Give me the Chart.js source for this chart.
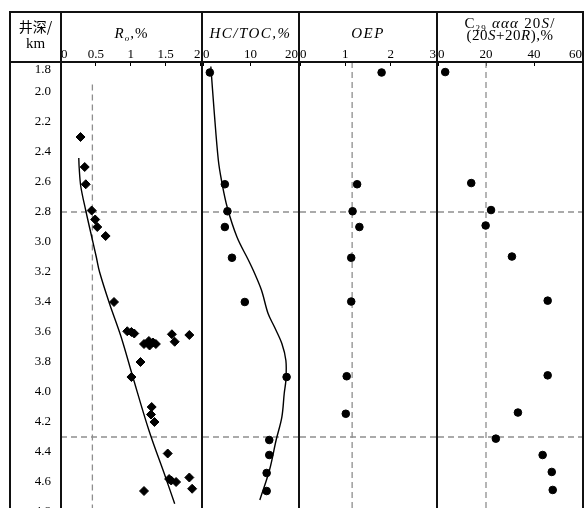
<!DOCTYPE html>
<html>
<head>
<meta charset="utf-8">
<script src="https://cdn.jsdelivr.net/npm/chart.js@4/dist/chart.umd.min.js"></script>
<style>
html, body { margin: 0; padding: 0; background: #fff; overflow: hidden; }
#wrap { position: relative; width: 585px; height: 508px; overflow: hidden; font-family: "Liberation Serif", "Times New Roman", serif; color: #000; }
#wrap canvas { position: absolute; top: 0; }
.ln { position: absolute; background: #111; z-index: 5; }
.hd { position: absolute; text-align: center; font-size: 15px; line-height: 14px; white-space: nowrap; z-index: 6; }
.hd i { font-style: italic; }
.cjk { font-family: "Noto Sans CJK SC", sans-serif; font-size: 14px; }
sub { font-size: 9px; vertical-align: -3px; line-height: 0; }
</style>
</head>
<body>
<div id="wrap">
  <!-- each canvas is 4px wider on both sides than its column, and runs past the bottom of the page -->
  <canvas id="cRo" width="200" height="540" style="left:6px"></canvas>
  <canvas id="cHc" width="105" height="540" style="left:198px"></canvas>
  <canvas id="cOep" width="146" height="540" style="left:295px"></canvas>
  <canvas id="cC29" width="154" height="540" style="left:433px"></canvas>

  <!-- frame -->
  <div class="ln" style="left:9px;top:11px;width:575px;height:2px"></div>
  <div class="ln" style="left:9px;top:61px;width:575px;height:2px"></div>
  <div class="ln" style="left:9px;top:11px;width:2px;height:500px"></div>
  <div class="ln" style="left:60px;top:11px;width:2px;height:500px"></div>
  <div class="ln" style="left:201px;top:11px;width:2px;height:500px"></div>
  <div class="ln" style="left:298px;top:11px;width:2px;height:500px"></div>
  <div class="ln" style="left:436px;top:11px;width:2px;height:500px"></div>
  <div class="ln" style="left:582px;top:11px;width:2px;height:500px"></div>

  <!-- headers -->
  <div class="hd cjk" style="left:10px;width:51px;top:19px">井深/</div>
  <div class="hd" style="left:10px;width:51px;top:36px">km</div>
  <div class="hd" style="left:61px;width:141px;top:26px;letter-spacing:1px"><i>R</i><sub><i>o</i></sub>,%</div>
  <div class="hd" style="left:202px;width:97px;top:26px;letter-spacing:1.5px"><i>HC/TOC,%</i></div>
  <div class="hd" style="left:299px;width:138px;top:26px;letter-spacing:1.5px"><i>OEP</i></div>
  <div class="hd" style="left:437px;width:146px;top:16px;letter-spacing:1.2px">C<sub>29</sub> <i>ααα</i> 20<i>S</i>/</div>
  <div class="hd" style="left:437px;width:146px;top:28px;letter-spacing:0.5px">(20<i>S</i>+20<i>R</i>),%</div>
</div>

<script>
// depth range (km) and reference lines
const depthMin = 1.8;
const depthMax = 4.8;
const thresholdDepths = [2.8, 4.3];

// Ro, %
const roDepth = [2.30, 2.50, 2.615, 2.79, 2.85, 2.90, 2.96, 3.40, 3.595, 3.60, 3.61, 3.68, 3.66, 3.69, 3.67, 3.68,
                 3.615, 3.665, 3.62, 3.80, 3.90, 4.10, 4.15, 4.20, 4.41, 4.58, 4.59, 4.60, 4.57, 4.645, 4.66];
const roValue = [0.28, 0.34, 0.355, 0.44, 0.49, 0.52, 0.64, 0.76, 0.95, 1.01, 1.05, 1.19, 1.26, 1.27, 1.32, 1.36,
                 1.59, 1.63, 1.84, 1.14, 1.01, 1.30, 1.29, 1.34, 1.53, 1.55, 1.58, 1.65, 1.84, 1.88, 1.19];
const roTrendDepth = [2.44, 2.50, 2.63, 2.79, 2.955, 3.10, 3.20, 3.41, 3.63, 3.90, 4.255, 4.57, 4.745];
const roTrendValue = [0.255, 0.26, 0.284, 0.355, 0.435, 0.506, 0.553, 0.695, 0.86, 1.03, 1.26, 1.50, 1.63];
const roCutoff = 0.45;

// HC/TOC, %
const hcDepth = [1.87, 2.615, 2.795, 2.90, 3.105, 3.40, 3.90, 4.32, 4.42, 4.54, 4.66];
const hcValue = [1.44, 4.6, 5.15, 4.6, 6.1, 8.8, 17.6, 13.95, 13.95, 13.4, 13.4];
const hcTrendDepth = [1.83, 2.12, 2.455, 2.59, 2.767, 2.967, 3.12, 3.19, 3.32, 3.477, 3.567, 3.677, 3.79, 3.92, 4.01, 4.167, 4.32, 4.52, 4.72];
const hcTrendValue = [1.65, 2.33, 3.23, 3.9, 5.09, 7.15, 9.55, 10.6, 12.3, 13.7, 15.05, 16.6, 17.45, 17.45, 17.1, 16.6, 15.4, 14.0, 11.96];

// OEP
const oepDepth = [1.87, 2.615, 2.795, 2.90, 3.105, 3.397, 3.895, 4.145];
const oepValue = [1.80, 1.26, 1.16, 1.31, 1.13, 1.13, 1.03, 1.01];
const oepCutoff = 1.15;

// C29 ααα 20S/(20S+20R), %
const c29Depth = [1.867, 2.607, 2.787, 2.89, 3.097, 3.391, 3.889, 4.137, 4.311, 4.42, 4.533, 4.653];
const c29Value = [3.0, 13.85, 22.1, 19.85, 30.8, 45.7, 45.7, 33.3, 24.1, 43.6, 47.4, 47.8];
const c29Cutoff = 20;

const serif = '"Liberation Serif", "Times New Roman", serif';
const dashGrey = '#8e8e8e';

function pts(xs, ys) {
    return xs.map((v, i) => ({ x: v, y: ys[i] }));
}

function markers(xs, ys, style, r) {
    return { data: pts(xs, ys), pointStyle: style, pointRadius: r, backgroundColor: '#000', borderColor: '#000', borderWidth: 1 };
}

function trend(xs, ys) {
    return { data: pts(xs, ys), showLine: true, borderColor: '#000', borderWidth: 1.4, tension: 0.35, pointRadius: 0 };
}

function dashed(data) {
    return { data: data, showLine: true, borderColor: dashGrey, borderWidth: 1.3, borderDash: [6, 4], pointRadius: 0 };
}

function guideLines(xmin, xmax) {
    return thresholdDepths.map(d => dashed([{ x: xmin, y: d }, { x: xmax, y: d }]));
}

// moves the "1.8" label below the header line, as in the figure
const nudgeTopLabel = {
    id: 'nudgeTopLabel',
    beforeDraw(chart) {
        const s = chart.scales.y;
        s.getLabelItems(chart.chartArea).forEach(it => {
            if (it.label === '1.8') it.options.translation[1] += 8;
        });
    }
};

function makeChart(id, xmin, xmax, step, datasets, showDepth) {
    return new Chart(document.getElementById(id), {
        type: 'scatter',
        data: { datasets: datasets },
        options: {
            responsive: false,
            animation: false,
            events: [],
            devicePixelRatio: 1,
            // plot area: y 62..512 on the page
            layout: { padding: { top: 12, bottom: 28, left: 4, right: 4 } },
            plugins: { legend: { display: false }, tooltip: { enabled: false } },
            scales: {
                x: {
                    type: 'linear', position: 'top', min: xmin, max: xmax,
                    ticks: {
                        stepSize: step, align: 'inner', autoSkip: false, maxRotation: 0, padding: 4,
                        color: '#000', font: { family: serif, size: 13 }, callback: v => String(v)
                    },
                    grid: { drawOnChartArea: false, drawTicks: true, tickLength: -4, color: '#000', lineWidth: 1 },
                    border: { display: false },
                    afterFit: s => { s.height = 50; }
                },
                y: {
                    type: 'linear', reverse: true, min: depthMin, max: depthMax,
                    display: showDepth,
                    ticks: { stepSize: 0.2, padding: 10, color: '#000', font: { family: serif, size: 13 }, callback: v => v.toFixed(1) },
                    grid: { display: false, drawTicks: false },
                    border: { display: false },
                    afterFit: s => { s.width = showDepth ? 51 : 0; }
                }
            }
        },
        plugins: showDepth ? [nudgeTopLabel] : []
    });
}

makeChart('cRo', 0, 2, 0.5, [
    markers(roValue, roDepth, 'rectRot', 4.5),
    trend(roTrendValue, roTrendDepth),
    dashed([{ x: roCutoff, y: 1.95 }, { x: roCutoff, y: depthMax }]),
    ...guideLines(0, 2)
], true);

makeChart('cHc', 0, 20, 10, [
    markers(hcValue, hcDepth, 'circle', 3.8),
    trend(hcTrendValue, hcTrendDepth),
    ...guideLines(0, 20)
], false);

makeChart('cOep', 0, 3, 1, [
    markers(oepValue, oepDepth, 'circle', 3.8),
    dashed([{ x: oepCutoff, y: depthMin }, { x: oepCutoff, y: depthMax }]),
    ...guideLines(0, 3)
], false);

makeChart('cC29', 0, 60, 20, [
    markers(c29Value, c29Depth, 'circle', 3.8),
    dashed([{ x: c29Cutoff, y: depthMin }, { x: c29Cutoff, y: depthMax }]),
    ...guideLines(0, 60)
], false);
</script>
</body>
</html>
